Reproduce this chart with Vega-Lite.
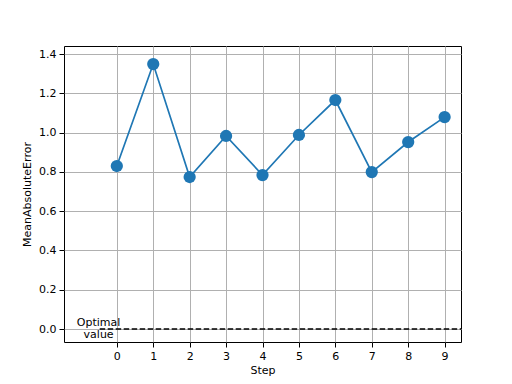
{
  "$schema": "https://vega.github.io/schema/vega-lite/v6.json",
  "width": 397,
  "height": 296,
  "autosize": "none",
  "padding": {"left": 64, "top": 46, "right": 51, "bottom": 42},
  "background": "white",
  "config": {
    "font": "DejaVu Sans",
    "view": {"stroke": "black", "strokeWidth": 1},
    "axis": {
      "grid": true,
      "gridColor": "#b0b0b0",
      "gridWidth": 1,
      "domain": false,
      "tickColor": "black",
      "tickSize": 5,
      "tickWidth": 1,
      "labelFont": "DejaVu Sans",
      "labelFontSize": 11,
      "labelColor": "black",
      "labelPadding": 3,
      "titleFont": "DejaVu Sans",
      "titleFontSize": 11,
      "titleFontWeight": "normal",
      "titleColor": "black"
    }
  },
  "datasets": {
    "errors": [
      {"Step": 0, "MAE": 0.830},
      {"Step": 1, "MAE": 1.349},
      {"Step": 2, "MAE": 0.774},
      {"Step": 3, "MAE": 0.983},
      {"Step": 4, "MAE": 0.784},
      {"Step": 5, "MAE": 0.988},
      {"Step": 6, "MAE": 1.166},
      {"Step": 7, "MAE": 0.799},
      {"Step": 8, "MAE": 0.952},
      {"Step": 9, "MAE": 1.079}
    ],
    "optimal": [
      {"x": -0.47, "x2": 9.45, "y": 0, "label": "Optimal\nvalue", "lx": -0.5}
    ]
  },
  "layer": [
    {
      "data": {"name": "errors"},
      "mark": {"type": "line", "color": "#1f77b4", "strokeWidth": 1.7},
      "encoding": {
        "x": {
          "field": "Step", "type": "quantitative",
          "scale": {"domain": [-1.45, 9.45], "nice": false, "zero": false},
          "axis": {"values": [0, 1, 2, 3, 4, 5, 6, 7, 8, 9], "title": "Step", "titlePadding": 3}
        },
        "y": {
          "field": "MAE", "type": "quantitative",
          "scale": {"domain": [-0.066, 1.441], "nice": false, "zero": false},
          "axis": {"values": [0, 0.2, 0.4, 0.6, 0.8, 1.0, 1.2, 1.4], "format": ".1f", "title": "MeanAbsoluteError", "titlePadding": 6}
        }
      }
    },
    {
      "data": {"name": "errors"},
      "mark": {"type": "point", "filled": true, "color": "#1f77b4", "size": 150, "opacity": 1},
      "encoding": {
        "x": {"field": "Step", "type": "quantitative"},
        "y": {"field": "MAE", "type": "quantitative"}
      }
    },
    {
      "data": {"name": "optimal"},
      "mark": {"type": "rule", "color": "black", "strokeWidth": 1.5, "strokeDash": [5.5, 2.5]},
      "encoding": {
        "x": {"field": "x", "type": "quantitative"},
        "x2": {"field": "x2"},
        "y": {"field": "y", "type": "quantitative"}
      }
    },
    {
      "data": {"name": "optimal"},
      "mark": {"type": "text", "fontSize": 11, "font": "DejaVu Sans", "align": "center", "baseline": "middle", "lineBreak": "\n", "lineHeight": 12, "color": "black", "dy": -6},
      "encoding": {
        "x": {"field": "lx", "type": "quantitative"},
        "y": {"field": "y", "type": "quantitative"},
        "text": {"field": "label"}
      }
    }
  ]
}
